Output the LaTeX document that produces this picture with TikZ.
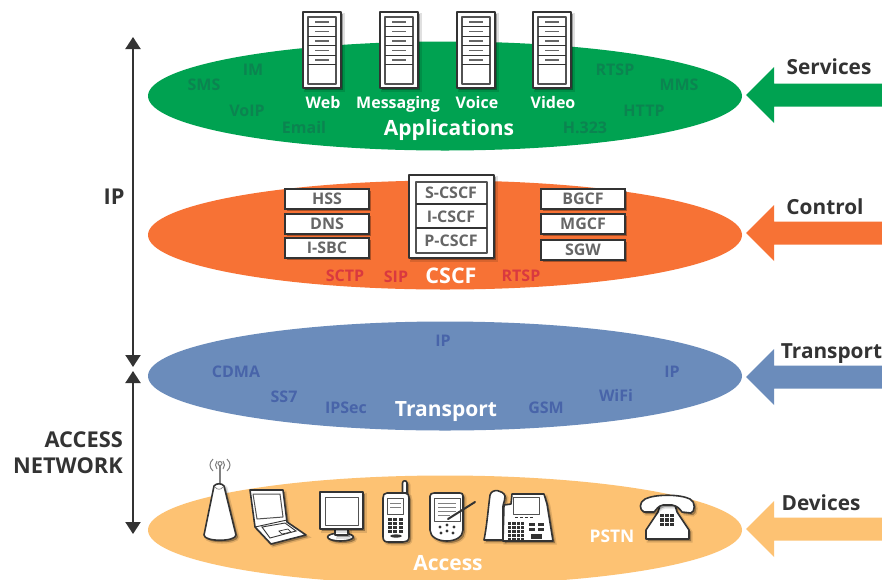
\documentclass[tikz,border=0pt]{standalone}
\usepackage{fontspec}
\setmainfont{Open Sans}
\usetikzlibrary{arrows.meta,shapes.geometric}
\definecolor{cgreen}{HTML}{00A251}
\definecolor{corange}{HTML}{F77235}
\definecolor{cblue}{HTML}{6B8CBB}
\definecolor{cyellow}{HTML}{FDC273}
\definecolor{tgreen}{HTML}{0B8450}
\definecolor{tred}{HTML}{D9393F}
\definecolor{tblue}{HTML}{4864A9}
\definecolor{tdark}{HTML}{333333}
\definecolor{tgray}{HTML}{666666}
\definecolor{ldark}{HTML}{333333}
\tikzset{
  layer/.style={ellipse,draw=none,inner sep=0pt,minimum width=594pt,minimum height=109pt},
  inlabel/.style={font=\fontsize{16}{18}\selectfont\bfseries,inner sep=0pt,text height=11.5pt,text depth=0pt},
  biglabel/.style={font=\fontsize{21}{23}\selectfont\bfseries,text=white,inner sep=0pt,text height=15pt,text depth=0pt},
  whitelabel/.style={font=\fontsize{16}{18}\selectfont\bfseries,text=white,inner sep=0pt,text height=11.5pt,text depth=0pt},
  sidelabel/.style={font=\fontsize{20.8}{23}\selectfont\bfseries,text=tdark,inner sep=0pt,text height=15pt,text depth=0pt},
  capslabel/.style={font=\fontsize{21.8}{24}\selectfont\bfseries,text=tdark,inner sep=0pt,text height=15.6pt,text depth=0pt},
  boxlabel/.style={font=\fontsize{16}{18}\selectfont\bfseries,text=tgray,inner sep=0pt,text height=11.5pt,text depth=0pt},
  span/.style={draw=ldark,line width=2pt,{Triangle[length=12pt,width=15pt]}-{Triangle[length=12pt,width=15pt]}},
  dev/.style={draw=ldark,line width=1.6pt,fill=white,line join=round,
    preaction={draw=black,draw opacity=.12,line width=3pt,fill=black,fill opacity=.3,transform canvas={xshift=2pt,yshift=-2pt}}},
  thin dev/.style={draw=ldark!85,line width=1pt,fill=white,line join=round},
  sbox/.style={draw=ldark,line width=1.7pt,fill=white,minimum width=84pt,minimum height=20pt,inner sep=0pt,
    font=\fontsize{16}{18}\selectfont\bfseries,text=tgray,text height=11.5pt,text depth=0pt,
    preaction={fill=black,fill opacity=.3,transform canvas={xshift=2pt,yshift=-2pt}}},
}
\newcommand{\sideArrow}[2]{%
  \fill[#1] (746,#2) -- (774,#2-28) -- (774,#2-11.5) -- (882,#2-11.5) -- (882,#2+11.5) -- (774,#2+11.5) -- (774,#2+28) -- cycle;}
\newcommand{\serverBox}[1]{%
  \begin{scope}[shift={(#1,0)}]
    \path[dev] (0,12) rectangle (38,88);
    \draw[thin dev,line width=1.2pt] (5,17) rectangle (33,84);
    \foreach \r in {17,26.5,36,45.5,55}{
      \draw[ldark,line width=.9pt] (5,\r+9.5) -- (33,\r+9.5);
      \draw[tgray,line width=1.3pt] (12,\r+5) -- (26,\r+5);
    }
  \end{scope}}
\newcommand{\keyGrid}[8]{%
  \foreach \i in {1,...,#3}{\foreach \j in {1,...,#4}{
    \fill[ldark] ({#1+(\i-1)*#5},{#2+(\j-1)*#6}) rectangle ++(#7,#8);}}}
\begin{document}
\begin{tikzpicture}[x=1pt,y=-1pt]
\useasboundingbox (0,0) rectangle (882,579);
\fill[white] (0,0) rectangle (882,579);
% layers
\begin{scope}
  \clip (0,0) rectangle (882,579);
  \node[layer,fill=cgreen] (eApps) at (445,96) {};
  \node[layer,fill=corange] (eCtrl) at (445,235) {};
  \node[layer,fill=cblue] (eTrans) at (445,376) {};
  \node[layer,fill=cyellow] (eAcc) at (445,530) {};
\end{scope}
% side arrows
\sideArrow{cgreen}{95}
\sideArrow{corange}{233}
\sideArrow{cblue}{377}
\sideArrow{cyellow}{529}
% span arrows
\coordinate (ipTop) at (133,37);
\coordinate (ipBot) at (133,367);
\coordinate (anTop) at (133,371);
\coordinate (anBot) at (133,534);
\draw[span] (ipTop) -- (ipBot);
\draw[span] (anTop) -- (anBot);
\node[capslabel] (lIP) at (114,197) {IP};
\node[capslabel,anchor=east] (lAcc) at (123,440) {ACCESS};
\node[capslabel,anchor=east] (lNet) at (123,466) {NETWORK};
\node[sidelabel] (lServ) at (829,66.5) {Services};
\node[sidelabel] (lCtrl) at (825,207) {Control};
\node[sidelabel] (lTrans) at (831.5,350.5) {Transport};
\node[sidelabel] (lDev) at (821,503) {Devices};
% servers
\serverBox{303}
\serverBox{380}
\serverBox{457}
\serverBox{533}
\node[whitelabel] (tWeb) at (323,102.5) {Web};
\node[whitelabel] (tMsg) at (398,102.5) {Messaging};
\node[whitelabel] (tVoice) at (477,102.5) {Voice};
\node[whitelabel] (tVideo) at (553,102.5) {Video};
\node[biglabel] (tApps) at (449,127.5) {Applications};
\foreach \n/\x/\y/\t in {a/204/85/SMS,b/253/70/IM,c/247/111/VoIP,d/304/128/Email,e/615/70/RTSP,f/679/85/MMS,g/644/111/HTTP,h/585/128/H.323}{
  \node[inlabel,text=tgreen] (g\n) at (\x,\y) {\t};
}
% control
\node[sbox] (bHSS) at (327,199) {HSS};
\node[sbox] (bDNS) at (327,224) {DNS};
\node[sbox] (bSBC) at (327,248) {I-SBC};
\node[sbox] (bBGCF) at (583,199) {BGCF};
\node[sbox] (bMGCF) at (583,224) {MGCF};
\node[sbox] (bSGW) at (583,250) {SGW};
\path[dev] (409,175) rectangle (494,258);
\draw[thin dev,line width=1.4pt] (416,182) rectangle (487,253);
\draw[ldark,line width=1.3pt] (416,204) -- (487,204) (416,228) -- (487,228);
\node[boxlabel] (cS) at (451,193) {S-CSCF};
\node[boxlabel] (cI) at (451,217) {I-CSCF};
\node[boxlabel] (cP) at (451,241) {P-CSCF};
\node[biglabel,font=\fontsize{21.5}{23}\selectfont\bfseries] (tCSCF) at (451,276) {CSCF};
\node[inlabel,text=tred] (rSCTP) at (345,276) {SCTP};
\node[inlabel,text=tred] (rSIP) at (396,277) {SIP};
\node[inlabel,text=tred] (rRTSP) at (521,276) {RTSP};
% transport
\node[biglabel] (tTrans) at (446,409) {Transport};
\foreach \n/\x/\y/\t in {a/443/341/IP,b/236/372/CDMA,c/284/397/SS7,d/346/408/IPSec,e/546/408/GSM,f/616/396/WiFi,g/672/372/IP}{
  \node[inlabel,text=tblue] (u\n) at (\x,\y) {\t};
}
% access
\node[biglabel] (tAcc) at (448,563) {Access};
\node[whitelabel,font=\fontsize{17.4}{19}\selectfont\bfseries,text height=12.4pt] (tPSTN) at (612,536) {PSTN};
% tower
\draw[gray,line width=1.4pt] (220,465) -- (220,486);
\draw[gray,line width=1pt] (217,461) .. controls (215,463.5) and (215,466.5) .. (217,469)
  (223,461) .. controls (225,463.5) and (225,466.5) .. (223,469)
  (213,459) .. controls (209,463) and (209,467) .. (213,471)
  (227,459) .. controls (231,463) and (231,467) .. (227,471);
\draw[gray,line width=1pt] (220,463.5) circle (2pt);
\path[dev] (214,486) .. controls (216,483) and (222,483) .. (224,486) -- (236,535) .. controls (236,542) and (204,542) .. (204,535) -- cycle;
\draw[gray,line width=.7pt] (215,487) .. controls (217,490) and (221,490) .. (223,487);
% laptop
\path[dev] (250,490) -- (283,490) -- (287,522) -- (306,535) -- (271,544) -- (255,527) -- cycle;
\draw[thin dev] (253,494) -- (280,494) -- (283,517) -- (257,519) -- cycle;
\draw[ldark,line width=.9pt] (255,527) -- (287,520) (262,527) -- (285,523) -- (296,531) -- (270,538) -- cycle;
\draw[ldark,line width=.7pt,fill=white] (279,531) -- (288,529) -- (291,532) -- (282,534) -- cycle;
% monitor
\path[dev] (340.5,537) ellipse (13pt and 4pt);
\path[dev] (335,529) rectangle (348,535);
\path[dev] (320,492) rectangle (363,529);
\draw[thin dev] (325,497) rectangle (358,525);
% mobile
\path[dev] (402.5,493) -- (402.5,483) .. controls (402.5,480) and (407,480) .. (407,483) -- (407,493) -- cycle;
\path[dev] (387,493) -- (405,493) .. controls (408,493) and (409,495) .. (409,498) -- (409,537) .. controls (409,541) and (406,542) .. (403,542) -- (389,542) .. controls (385,542) and (383,541) .. (383,537) -- (383,498) .. controls (383,495) and (384,493) .. (387,493) -- cycle;
\draw[thin dev] (387.5,498) rectangle (403,514);
\draw[gray,line width=.8pt] (390,503) -- (400.5,503) (390,507) -- (400.5,507);
\keyGrid{388}{518}{3}{4}{5.3}{4}{4}{3}
\fill[ldark] (396,536) ellipse (6pt and 1.6pt);
% pda
\path[dev] (434,493) -- (460,493) .. controls (462,493) and (463,494) .. (463,496) -- (463,530) .. controls (463,537) and (455,541) .. (447,541) .. controls (438,541) and (430,537) .. (430,530) -- (430,496) .. controls (430,494) and (432,493) .. (434,493) -- cycle;
\draw[thin dev] (434,498) rectangle (460,521);
\draw[gray,line width=.8pt] (438,503) -- (456,503) (438,507) -- (456,507) (438,511) -- (456,511) (438,515) -- (450,515);
\fill[ldark] (440,527) circle (1.6pt) (447,525) circle (1.6pt) (454,527) circle (1.6pt) (441,533) circle (1.6pt) (447,531) circle (1.6pt) (453,533) circle (1.6pt);
\draw[ldark,line width=2pt,line cap=round] (448,519) -- (475,502);
% desk phone
\path[dev] (505,496) .. controls (503,490) and (492,488) .. (490,495) .. controls (488,510) and (487,525) .. (484,540) -- (503,540) -- (503,510) .. controls (502,505) and (505,502) .. (505,496) -- cycle;
\path[dev] (512,494) -- (544,494) -- (547,504) -- (553,541) -- (503,541) -- (504,505) -- (511,504) -- cycle;
\draw[thin dev] (513,497) rectangle (539,514);
\keyGrid{508}{522}{4}{5}{4.3}{4}{3.2}{2.6}
\keyGrid{529}{523}{2}{2}{9}{5}{6}{2.6}
\keyGrid{531}{534}{1}{1}{1}{1}{11}{5}
\keyGrid{515}{516.5}{4}{1}{5}{1}{3}{1.5}
% old phone
\path[dev] (660,505) -- (675,505) -- (677,512) -- (689,530) -- (689,539) -- (646,539) -- (646,530) -- (658,512) -- cycle;
\path[dev] (644,512) .. controls (639,510) and (639,502) .. (645,499) .. controls (655,494) and (680,494) .. (690,499) .. controls (696,502) and (695,512) .. (691,513) -- (682,512) .. controls (679,508) and (677,506) .. (672,505) -- (663,505) .. controls (658,506) and (657,509) .. (654,512) -- cycle;
\keyGrid{660}{514}{3}{3}{5.2}{4.4}{4}{3.4}
\end{tikzpicture}
\end{document}
